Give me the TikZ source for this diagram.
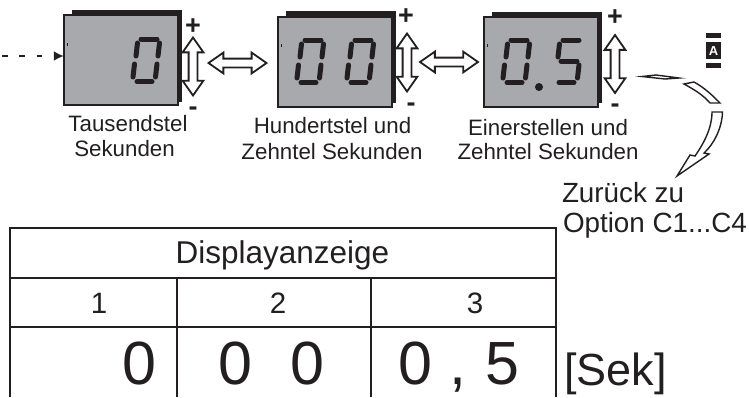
\documentclass[tikz,border=0pt]{standalone}
\usepackage{fontspec}
\setmainfont{Liberation Sans}
\usetikzlibrary{shapes.arrows,arrows.meta}
\definecolor{lcdgray}{HTML}{A7A9AC}
\definecolor{ink}{HTML}{231F20}
\newcommand{\fsz}[1]{\fontsize{#1}{#1}\selectfont}
\tikzset{
  lbl/.style={anchor=base,inner sep=0pt,outer sep=0pt,text=ink,font=\fsz{22.3}},
  lbla/.style={lbl,font=\fsz{27.8}},
  lblhead/.style={lbl,font=\fsz{31.5}},
  lblnum/.style={lbl,font=\fsz{29.5}},
  lblbig/.style={lbl,font=\fsz{61}},
  lblsek/.style={lbl,font=\fsz{45}},
  sign/.style={lbl,font=\fsz{27}\bfseries},
  lcd/.style={draw=ink,line width=1.6pt,fill=lcdgray,inner sep=0pt,outer sep=0pt,minimum width=114pt,minimum height=90pt},
  shadow/.style={fill=ink},
  seg/.style={draw=ink,line width=5pt,line cap=round},
  dblbase/.style={draw=ink,fill=white,line width=1.8pt,double arrow,double arrow head extend=6pt,double arrow tip angle=70,inner sep=3.5pt,outer sep=0pt,minimum height=58pt},
  vdbl/.style={dblbase,rotate=90},
  hdbl/.style={dblbase},
  tline/.style={draw=ink,line width=1.6pt},
  curved/.style={draw=ink,fill=white,line width=1.4pt,line join=miter},
}
% seven-segment digit: top-left corner of its box
\newcommand{\sega}{\draw[seg] (11,3) -- (27,3);}
\newcommand{\segb}{\draw[seg] (29.5,7) -- (28,20);}
\newcommand{\segc}{\draw[seg] (27,28) -- (25.5,41);}
\newcommand{\segd}{\draw[seg] (7,45.5) -- (22,45.5);}
\newcommand{\sege}{\draw[seg] (4.5,28) -- (3,41);}
\newcommand{\segf}{\draw[seg] (7.5,7) -- (6,20);}
\newcommand{\segg}{\draw[seg] (9,24) -- (25,24);}
\newcommand{\dzero}[2]{\begin{scope}[shift={(#1,#2)}]\sega\segb\segc\segd\sege\segf\end{scope}}
\newcommand{\dfive}[2]{\begin{scope}[shift={(#1,#2)}]\sega\segc\segd\segf\segg\end{scope}}
\begin{document}
\begin{tikzpicture}[x=1pt,y=-1pt]
\useasboundingbox (0,0) rectangle (749,397);
% displays
\fill[shadow] (72,10) rectangle (182,102);
\node[lcd,anchor=north west] (d1) at (63.8,14.8) {};
\fill[shadow] (286,11) rectangle (396,103);
\node[lcd,anchor=north west] (d2) at (277.8,16.8) {};
\fill[shadow] (492,12) rectangle (602,103);
\node[lcd,anchor=north west] (d3) at (483.8,16.8) {};
\fill[ink] (67,43) rectangle (67.8,46);
\fill[ink] (281,44) rectangle (281.8,47);
\fill[ink] (487,44) rectangle (487.8,47);
% digits
\dzero{130}{36}
\dzero{294}{37}
\dzero{344}{37}
\dzero{500}{37}
\dfive{552}{37}
\fill[ink] (539,87) circle (4);
% dashed input
\coordinate (start) at (2,56);
\draw[ink,line width=2.2pt,dash pattern=on 5.8pt off 11.5pt,-{Latex[length=10pt,width=10pt]}] (start) -- (d1.west |- start);
% up/down arrows
\node[vdbl] (u1) at (193,66.5) {};
\node[vdbl] (u2) at (407,62.5) {};
\node[vdbl] (u3) at (615,64) {};
% horizontal links
\node[hdbl] (h1) at (237.5,63) {};
\node[hdbl] (h2) at (449,62) {};
% plus, minus
\node[sign] (p1) at (193,34) {+};
\node[sign] (m1) at (193,115) {-};
\node[sign] (p2) at (406,24) {+};
\node[sign] (m2) at (411,111) {-};
\node[sign] (p3) at (615,25) {+};
\node[sign] (m3) at (615,112) {-};
% key A
\fill[ink] (706,33) rectangle (721,38);
\fill[ink] (706,42) rectangle (721,59);
\fill[ink] (706,63) rectangle (721,68);
\node[inner sep=0pt,anchor=base,text=white,font=\fsz{13}\bfseries] (keyA) at (713.5,55.5) {A};
% return arrow
\draw[curved] (642,76.5) -- (656,75) -- (679,78) -- (665,79) -- cycle;
\draw[curved] (684,84) -- (694,82) .. controls (705,88) and (713,96) .. (720,103) -- (710,103) .. controls (703,95) and (695,90) .. (684,84) -- cycle;
\draw[curved] (712,112) -- (722.5,112) .. controls (722,128) and (714,144) .. (704,153) -- (709,154) -- (677,176) -- (690,155) -- (695,156) .. controls (704,143) and (712,128) .. (712,112) -- cycle;
% captions
\node[lbl] (c1a) at (128,131) {Tausendstel};
\node[lbl] (c1b) at (124.5,156) {Sekunden};
\node[lbl] (c2a) at (332.5,133) {Hundertstel und};
\node[lbl] (c2b) at (332,159) {Zehntel Sekunden};
\node[lbl] (c3a) at (548,135) {Einerstellen und};
\node[lbl] (c3b) at (548,159) {Zehntel Sekunden};
\node[lbla,anchor=base west] (z1) at (562,202) {Zurück zu};
\node[lbla,anchor=base west] (z2) at (563,232) {Option C1...C4};
% table
\draw[tline] (10,397) -- (10,228) -- (556,228) -- (556,397);
\draw[tline] (10,278) -- (556,278);
\draw[tline] (10,327) -- (556,327);
\draw[tline] (177,278) -- (177,397);
\draw[tline] (371,278) -- (371,397);
\node[lblhead] (th) at (282.5,263) {Displayanzeige};
\node[lblnum] (n1) at (99,313) {1};
\node[lblnum] (n2) at (278,313) {2};
\node[lblnum] (n3) at (475,313) {3};
\node[lblbig] (v1) at (139,384) {0};
\node[lblbig] (v2) at (235,384) {0};
\node[lblbig] (v3) at (307,384) {0};
\node[lblbig] (v4) at (415,384) {0};
\node[lblbig] (v5) at (458,384) {,};
\node[lblbig] (v6) at (502,384) {5};
\node[lblsek,anchor=base west] (sek) at (564,385) {[Sek]};
\end{tikzpicture}
\end{document}
